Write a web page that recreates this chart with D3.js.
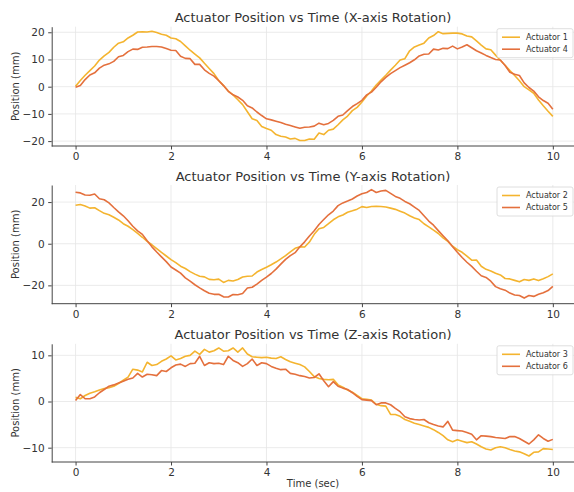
<!DOCTYPE html>
<html>
<head>
<meta charset="utf-8">
<script src="https://cdnjs.cloudflare.com/ajax/libs/d3/7.8.5/d3.min.js"></script>
<style>
  body { margin: 0; background: #fff; }
  text { font-family: "DejaVu Sans", sans-serif; fill: #333; }
</style>
</head>
<body>
<svg id="chart" width="574" height="492"></svg>
<script>
// time samples, 0..10 s every 0.1 s
const time = d3.range(101).map(i => i / 10);
const xTicks = [0, 2, 4, 6, 8, 10];

// X-axis rotation
const act1 = [0.2,2.3,4.2,5.9,7.6,9.8,11.3,12.6,14.5,16.0,16.5,17.9,18.9,20.1,20.2,20.1,20.4,19.9,19.3,18.9,
  17.9,17.6,16.6,15.0,13.4,12.0,10.6,8.6,6.7,4.8,2.3,0.4,-1.6,-3.0,-4.8,-6.6,-9.2,-11.8,-12.4,-14.6,
  -15.4,-16.0,-17.6,-18.2,-18.5,-19.2,-19.0,-19.8,-19.8,-19.2,-19.3,-17.0,-17.6,-16.0,-15.6,-14.0,-12.2,-10.8,-8.8,-7.6,
  -5.6,-3.4,-1.6,0.6,2.4,4.2,6.1,7.9,9.8,10.3,13.2,14.6,15.3,16.0,17.9,18.8,20.2,19.5,19.6,19.7,
  19.7,19.4,18.6,18.3,16.8,15.3,13.9,13.6,11.6,9.7,7.9,5.9,4.1,2.2,0.0,-1.2,-2.4,-4.9,-7.0,-9.0,-10.9];
const act4 = [-0.2,0.4,2.6,4.3,5.1,6.8,7.9,8.4,9.3,11.0,11.5,12.9,13.8,13.7,14.5,14.6,14.8,14.8,14.6,14.0,
  13.4,13.3,11.2,10.4,10.3,8.2,8.2,6.2,4.9,3.9,2.2,0.4,-1.7,-3.0,-3.8,-5.0,-7.0,-7.8,-9.3,-10.6,
  -11.8,-12.2,-12.7,-13.2,-13.8,-14.3,-14.8,-15.3,-14.9,-14.8,-14.5,-13.4,-14.0,-13.5,-12.4,-10.9,-10.4,-8.8,-7.3,-6.2,
  -5.0,-3.0,-2.0,-0.2,1.8,3.4,4.8,5.9,7.0,7.9,8.8,9.9,11.3,11.9,12.0,13.8,13.5,14.1,14.0,14.9,
  13.9,14.6,15.4,14.3,13.2,12.4,11.5,10.7,10.0,9.8,7.8,5.3,4.6,4.1,1.4,-0.3,-1.6,-3.7,-5.1,-6.1,-8.3];

// Y-axis rotation
const act2 = [18.5,18.8,18.1,17.1,17.3,15.9,14.6,13.9,12.7,11.4,9.6,8.4,6.8,5.0,3.1,1.1,-0.5,-2.3,-4.2,-5.9,
  -7.6,-9.1,-10.8,-11.9,-13.4,-14.6,-15.6,-15.9,-17.1,-17.3,-17.0,-18.6,-17.6,-17.9,-17.2,-16.0,-15.6,-15.5,-13.6,-12.4,
  -11.3,-10.1,-8.8,-7.3,-5.7,-3.9,-2.2,-1.5,-1.6,0.8,4.5,7.2,7.8,9.6,11.5,12.9,13.8,15.1,15.8,16.6,
  17.8,17.4,17.9,18.0,17.9,17.6,17.1,16.5,15.6,14.7,13.4,12.4,11.6,9.6,8.1,6.5,4.9,2.8,1.1,-1.2,
  -2.9,-4.1,-6.0,-7.9,-7.8,-10.8,-12.3,-13.1,-14.2,-15.0,-16.7,-16.9,-17.6,-18.3,-17.2,-17.6,-16.9,-17.7,-16.8,-15.8,-14.5];
const act5 = [24.7,24.4,23.4,23.3,23.9,21.6,21.1,19.6,17.4,15.3,13.4,11.0,8.4,6.2,4.5,1.4,-1.5,-4.0,-6.3,-8.6,
  -11.2,-12.6,-14.1,-16.4,-18.0,-19.7,-21.2,-22.6,-23.8,-24.3,-24.3,-25.5,-25.6,-24.4,-24.5,-23.9,-21.3,-20.9,-19.4,-17.6,
  -16.0,-14.3,-12.2,-9.8,-7.5,-5.7,-4.3,-1.5,0.9,3.7,6.2,9.2,11.6,13.9,15.7,18.3,19.6,20.5,21.5,22.9,
  24.0,24.6,26.0,24.6,25.3,25.6,24.2,22.7,21.8,20.3,19.2,17.6,16.0,13.4,10.9,8.9,6.3,3.8,1.4,-1.4,
  -4.1,-6.6,-8.9,-10.9,-13.2,-15.4,-16.2,-18.0,-20.6,-21.6,-22.3,-23.7,-24.6,-24.9,-26.1,-24.9,-25.3,-24.3,-23.5,-22.5,-20.5];

// Z-axis rotation
const act3 = [0.9,0.6,1.3,1.8,2.1,2.5,2.8,3.0,3.3,3.9,4.6,5.3,7.0,6.8,6.4,8.5,7.8,8.0,8.7,9.2,
  9.9,9.0,9.3,9.8,10.0,10.9,10.2,11.3,10.7,11.0,11.6,10.9,11.0,11.6,10.7,11.6,10.3,9.7,9.6,9.5,
  9.6,9.4,9.3,9.7,9.1,8.6,8.3,8.0,7.5,6.5,5.4,5.0,4.8,4.7,4.8,3.6,3.1,2.5,2.0,1.3,
  0.6,0.5,0.3,-0.6,-0.9,-1.0,-2.8,-2.8,-3.2,-3.9,-4.3,-4.7,-5.0,-5.3,-5.6,-6.1,-6.7,-7.4,-8.3,-8.7,
  -8.3,-8.6,-8.9,-8.7,-9.2,-9.8,-10.3,-10.5,-10.0,-9.8,-10.0,-10.4,-10.7,-10.9,-11.3,-11.8,-11.0,-10.9,-10.2,-10.3,-10.4];
const act6 = [0.2,1.5,0.6,0.6,1.0,1.9,2.6,3.3,3.6,4.0,4.4,4.8,5.1,6.1,5.3,5.9,5.8,5.6,6.7,6.5,
  7.3,7.9,8.1,7.6,8.2,8.3,9.8,7.8,8.4,8.2,8.3,8.0,9.8,8.9,8.4,7.6,8.2,9.2,7.8,8.4,
  8.2,7.6,7.2,6.9,7.0,6.1,5.9,5.6,5.4,5.1,5.2,6.0,4.5,3.2,4.3,3.3,2.9,2.6,1.9,1.1,
  0.4,0.3,0.2,-0.7,-0.3,-0.3,-0.7,-1.5,-2.2,-3.3,-3.7,-3.9,-4.0,-3.9,-4.6,-5.0,-5.3,-5.5,-4.3,-6.2,
  -6.3,-6.4,-6.7,-7.1,-8.3,-7.4,-7.5,-7.6,-7.8,-7.9,-8.0,-7.6,-7.6,-8.0,-8.6,-9.2,-8.3,-7.2,-8.0,-8.6,-8.2];

const titles = ["Actuator Position vs Time (X-axis Rotation)",
  "Actuator Position vs Time (Y-axis Rotation)",
  "Actuator Position vs Time (Z-axis Rotation)"];
const yTicks = [[-20, -10, 0, 10, 20], [-20, 0, 20], [-10, 0, 10]];
const yDomains = [[-21.8, 22.05], [-28.8, 28.2], [-13.1, 12.5]];
const names = [["Actuator 1", "Actuator 4"], ["Actuator 2", "Actuator 5"], ["Actuator 3", "Actuator 6"]];
const series = [[act1, act4], [act2, act5], [act3, act6]];

const colors = ["#f4b42f", "#e4703d"];
const panels = [{top: 26.7, bottom: 146}, {top: 185, bottom: 303.7}, {top: 343.8, bottom: 462}];

const svg = d3.select("#chart");
const x = d3.scaleLinear().domain([-0.5, 10.5]).range([51.7, 576.7]);
const fmt = d => d < 0 ? "\u2212" + Math.abs(d) : String(d);

panels.forEach((p, i) => {
  const y = d3.scaleLinear().domain(yDomains[i]).range([p.bottom, p.top]);
  const g = svg.append("g");

  // grid
  g.selectAll(".vg").data(xTicks).enter().append("line")
    .attr("x1", d => x(d)).attr("x2", d => x(d))
    .attr("y1", p.top).attr("y2", p.bottom)
    .attr("stroke", "#e6e6e6").attr("stroke-width", 0.8);
  g.selectAll(".hg").data(yTicks[i]).enter().append("line")
    .attr("x1", x.range()[0]).attr("x2", x.range()[1])
    .attr("y1", d => y(d)).attr("y2", d => y(d))
    .attr("stroke", "#e6e6e6").attr("stroke-width", 0.8);

  // lines
  const line = d3.line().x((d, k) => x(time[k])).y(d => y(d));
  series[i].forEach((s, j) => {
    g.append("path").datum(s)
      .attr("d", line)
      .attr("fill", "none")
      .attr("stroke", colors[j])
      .attr("stroke-width", 1.6)
      .attr("stroke-linejoin", "round");
  });

  // axes
  const xa = g.append("g").attr("transform", `translate(0,${p.bottom})`)
    .call(d3.axisBottom(x).tickValues(xTicks).tickFormat(fmt).tickSize(3.5).tickPadding(3.5).tickSizeOuter(0));
  const ya = g.append("g").attr("transform", `translate(${x.range()[0]},0)`)
    .call(d3.axisLeft(y).tickValues(yTicks[i]).tickFormat(fmt).tickSize(3.5).tickPadding(3.5).tickSizeOuter(0));
  [xa, ya].forEach(a => {
    a.select(".domain").attr("stroke", "#444").attr("stroke-width", 1);
    a.selectAll(".tick line").attr("stroke", "#444");
    a.selectAll(".tick text").attr("font-size", 10.5).attr("fill", "#333")
      .style("font-family", "'DejaVu Sans', sans-serif");
  });
  xa.select(".domain").attr("d", `M${x.range()[0]},0H${x.range()[1]}`);

  // title
  g.append("text").attr("x", 313).attr("y", p.top - 4.5)
    .attr("text-anchor", "middle").attr("font-size", 13).text(titles[i]);

  // y label
  g.append("text")
    .attr("transform", `translate(19,${(p.top + p.bottom) / 2}) rotate(-90)`)
    .attr("text-anchor", "middle").attr("font-size", 10).text("Position (mm)");

  // legend
  const lg = g.append("g").attr("transform", `translate(497,${p.top + 2})`);
  lg.append("rect").attr("width", 76).attr("height", 29).attr("rx", 2)
    .attr("fill", "#fff").attr("fill-opacity", 0.85).attr("stroke", "#d6d6d6").attr("stroke-width", 0.8);
  names[i].forEach((n, j) => {
    const yy = 8.5 + j * 12;
    lg.append("line").attr("x1", 5).attr("x2", 23).attr("y1", yy).attr("y2", yy)
      .attr("stroke", colors[j]).attr("stroke-width", 1.6);
    lg.append("text").attr("x", 29).attr("y", yy).attr("dy", "0.35em")
      .attr("font-size", 8).text(n);
  });
});

svg.append("text").attr("x", 313).attr("y", 487).attr("text-anchor", "middle")
  .attr("font-size", 10).text("Time (sec)");
</script>
</body>
</html>
